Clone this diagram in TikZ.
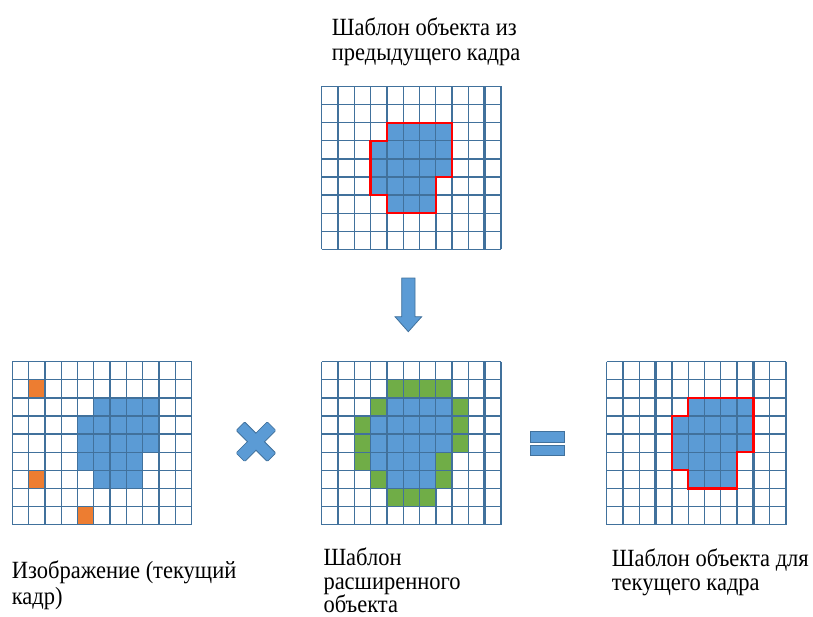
\documentclass[tikz,border=0pt]{standalone}
\usepackage{fontspec}
\setmainfont{Liberation Serif}

\definecolor{cellline}{HTML}{41719C}
\definecolor{objblue}{HTML}{5B9BD5}
\definecolor{ringgreen}{HTML}{70AD47}
\definecolor{noiseorange}{HTML}{ED7D31}

\tikzset{
  gridline/.style={draw=cellline, line width=1.3bp},
  heavyline/.style={draw=cellline, line width=2.6bp},
  contour/.style={draw=red, line width=2.3bp, line join=miter},
  signshape/.style={fill=objblue, draw=cellline, line width=0.8bp},
  lbl/.style={anchor=base west, inner sep=0pt, text=black,
              font=\fontsize{22.5bp}{27bp}\selectfont},
  cellgrid/.style={x=16.3bp, y=-18.1bp},
}

% 11 x 9 cell lattice in cell units
\newcommand\lattice{%
  \foreach \i in {0,...,11} \draw[gridline] (\i,0) -- (\i,9);
  \foreach \j in {0,...,9} \draw[gridline] (0,\j) -- (11,\j);
}
% outline of the object in cell units
\newcommand\objpath{(4,2) -- (8,2) -- (8,5) -- (7,5) -- (7,7) -- (4,7) -- (4,6) -- (3,6) -- (3,3) -- (4,3) -- cycle}
% caption lines, stretched upright, first baseline on the anchor
\newcommand\stackedtext[2]{\scalebox{1}[1.1]{\vtop{\baselineskip=#1\lineskiplimit=-\maxdimen\lineskip=0pt #2}}}

\begin{document}
\begin{tikzpicture}[x=1bp, y=-1bp]
\useasboundingbox (0,0) rectangle (813,617);

% ---------- template from the previous frame ----------
\begin{scope}[shift={(321.7,86.5)}, cellgrid]
  \fill[objblue] \objpath;
  \lattice
  \draw[heavyline] (8,0) -- (8,9);
  \draw[heavyline] (10,0) -- (10,9);
  \draw[heavyline] (7,6) -- (7,9);
  \draw[contour] \objpath;
\end{scope}

% ---------- current frame ----------
\begin{scope}[shift={(12.3,361.7)}, cellgrid]
  \begin{scope}[xshift=16.3bp]
    \fill[objblue] \objpath;
  \end{scope}
  \foreach \c/\r in {1/1, 1/6, 4/8}
    \fill[noiseorange] (\c,\r) rectangle ++(1,1);
  \lattice
  \draw[heavyline] (9,0) -- (9,6);
\end{scope}

% ---------- expanded object template ----------
\begin{scope}[shift={(321.7,361.7)}, cellgrid]
  \fill[objblue] \objpath;
  \foreach \c/\r in {4/1,5/1,6/1,7/1,3/2,8/2,2/3,8/3,2/4,8/4,2/5,7/5,3/6,7/6,4/7,5/7,6/7}
    \fill[ringgreen] (\c,\r) rectangle ++(1,1);
  \lattice
  \draw[heavyline] (8,0) -- (8,9);
  \draw[heavyline] (10,0) -- (10,9);
  \draw[heavyline] (7,7) -- (7,9);
\end{scope}

% ---------- template for the current frame ----------
\begin{scope}[shift={(606.7,361.7)}, cellgrid]
  \begin{scope}[xshift=16.3bp]
    \fill[objblue] \objpath;
  \end{scope}
  \lattice
  \draw[heavyline] (3,0) -- (3,9);
  \draw[heavyline] (8,0) -- (8,9);
  \draw[heavyline] (9,0) -- (9,9);
  \begin{scope}[xshift=16.3bp]
    \draw[contour] \objpath;
  \end{scope}
\end{scope}

% ---------- operators ----------
\path[signshape] (401.7,278) -- (415,278) -- (415,316.7) -- (421.7,316.7)
  -- (408.3,331.7) -- (395,316.7) -- (401.7,316.7) -- cycle;

\begin{scope}[shift={(256,441.7)}]
  \path[signshape, rotate=45, rounded corners=1bp] (-22,-6) rectangle (22,6);
  \path[signshape, rotate=-45, rounded corners=1bp] (-22,-6) rectangle (22,6);
  \fill[objblue, rotate=45] (-21.5,-5.5) rectangle (21.5,5.5);
\end{scope}

\path[signshape] (530.7,431.7) rectangle (564,442.3);
\path[signshape] (530.7,445) rectangle (564,455);

% ---------- captions ----------
\node[lbl] (prevcap) at (331.7,35.7)
  {\stackedtext{22.1bp}{\hbox{Шаблон объекта из}\hbox{предыдущего кадра}}};

\node[lbl] (imgcap) at (11.7,578.3)
  {\stackedtext{23.6bp}{\hbox{Изображение (текущий}\hbox{кадр)}}};

\node[lbl] (extcap) at (323.3,565.5)
  {\stackedtext{21.4bp}{\hbox{Шаблон}\hbox{расширенного}\hbox{объекта}}};

\node[lbl] (curcap) at (611.7,566)
  {\stackedtext{22.7bp}{\hbox{Шаблон объекта для}\hbox{текущего кадра}}};
\end{tikzpicture}
\end{document}
